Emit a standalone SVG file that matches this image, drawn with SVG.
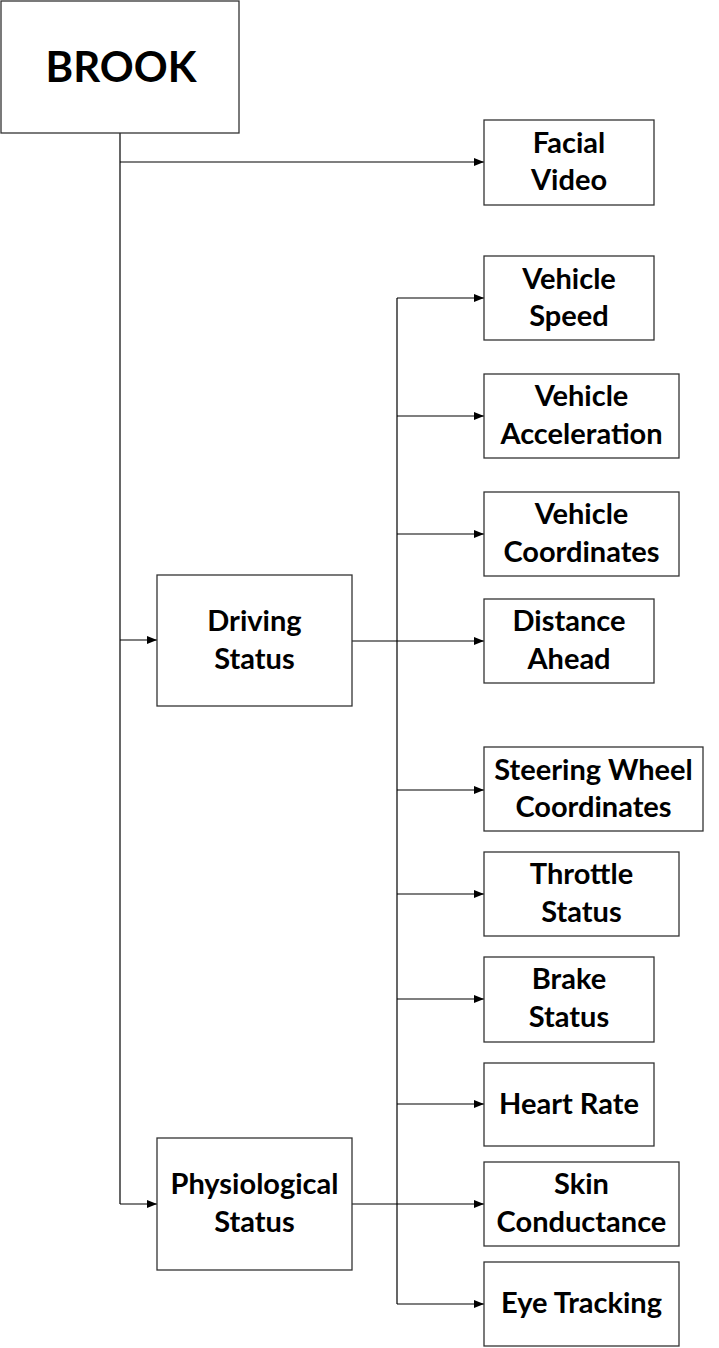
<svg xmlns="http://www.w3.org/2000/svg" width="719" height="1348" viewBox="0 0 719 1348">
<style>
.box{fill:#fff;stroke:#333;stroke-width:1.3}
.t{font-family:Lato,"Open Sans","Liberation Sans",sans-serif;font-weight:bold;font-size:29px;fill:#000;text-anchor:middle}
.c{fill:none;stroke:#000;stroke-width:1.2}
</style>
<defs>
<marker id="ah" markerWidth="11" markerHeight="9" refX="10" refY="4" orient="auto" markerUnits="userSpaceOnUse">
<path d="M0,0 L10,4 L0,8 z" fill="#000"/>
</marker>
</defs>
<rect width="719" height="1348" fill="#fff"/>
<g id="connectors">
<path class="c" d="M120,133 V1204"/>
<path class="c" d="M120,162 H484" marker-end="url(#ah)"/>
<path class="c" d="M120,640 H157" marker-end="url(#ah)"/>
<path class="c" d="M120,1204 H157" marker-end="url(#ah)"/>
<path class="c" d="M397,298 V1304"/>
<path class="c" d="M352,641 H397"/>
<path class="c" d="M352,1204 H397"/>
<path class="c" d="M397,298 H484" marker-end="url(#ah)"/>
<path class="c" d="M397,416 H484" marker-end="url(#ah)"/>
<path class="c" d="M397,534 H484" marker-end="url(#ah)"/>
<path class="c" d="M397,641 H484" marker-end="url(#ah)"/>
<path class="c" d="M397,790 H484" marker-end="url(#ah)"/>
<path class="c" d="M397,894 H484" marker-end="url(#ah)"/>
<path class="c" d="M397,999 H484" marker-end="url(#ah)"/>
<path class="c" d="M397,1104 H484" marker-end="url(#ah)"/>
<path class="c" d="M397,1204 H484" marker-end="url(#ah)"/>
<path class="c" d="M397,1304 H484" marker-end="url(#ah)"/>
</g>
<g id="brook">
<rect class="box" x="1" y="1" width="238" height="132"/>
<text class="t" x="121" y="82" style="font-size:42px">BROOK</text>
</g>
<g id="facial-video">
<rect class="box" x="484" y="120" width="170" height="85"/>
<text class="t" x="569" y="153">Facial</text>
<text class="t" x="569" y="190">Video</text>
</g>
<g id="driving-status">
<rect class="box" x="157" y="575" width="195" height="131"/>
<text class="t" x="254.5" y="631">Driving</text>
<text class="t" x="254.5" y="669">Status</text>
</g>
<g id="physiological-status">
<rect class="box" x="157" y="1138" width="195" height="132"/>
<text class="t" x="254.5" y="1194">Physiological</text>
<text class="t" x="254.5" y="1232">Status</text>
</g>
<g id="vehicle-speed">
<rect class="box" x="484" y="256" width="170" height="84"/>
<text class="t" x="569" y="289">Vehicle</text>
<text class="t" x="569" y="326">Speed</text>
</g>
<g id="vehicle-acceleration">
<rect class="box" x="484" y="374" width="195" height="84"/>
<text class="t" x="581.5" y="406">Vehicle</text>
<text class="t" x="581.5" y="444">Acceleration</text>
</g>
<g id="vehicle-coordinates">
<rect class="box" x="484" y="492" width="195" height="84"/>
<text class="t" x="581.5" y="524">Vehicle</text>
<text class="t" x="581.5" y="562">Coordinates</text>
</g>
<g id="distance-ahead">
<rect class="box" x="484" y="599" width="170" height="84"/>
<text class="t" x="569" y="631">Distance</text>
<text class="t" x="569" y="669">Ahead</text>
</g>
<g id="steering-wheel-coordinates">
<rect class="box" x="484" y="747" width="219" height="84"/>
<text class="t" x="593.5" y="780">Steering Wheel</text>
<text class="t" x="593.5" y="817">Coordinates</text>
</g>
<g id="throttle-status">
<rect class="box" x="484" y="852" width="195" height="84"/>
<text class="t" x="581.5" y="884">Throttle</text>
<text class="t" x="581.5" y="922">Status</text>
</g>
<g id="brake-status">
<rect class="box" x="484" y="957" width="170" height="85"/>
<text class="t" x="569" y="989">Brake</text>
<text class="t" x="569" y="1027">Status</text>
</g>
<g id="heart-rate">
<rect class="box" x="484" y="1063" width="170" height="83"/>
<text class="t" x="569" y="1114">Heart Rate</text>
</g>
<g id="skin-conductance">
<rect class="box" x="484" y="1162" width="195" height="84"/>
<text class="t" x="581.5" y="1194">Skin</text>
<text class="t" x="581.5" y="1232">Conductance</text>
</g>
<g id="eye-tracking">
<rect class="box" x="484" y="1262" width="195" height="84"/>
<text class="t" x="581.5" y="1313">Eye Tracking</text>
</g>
</svg>
